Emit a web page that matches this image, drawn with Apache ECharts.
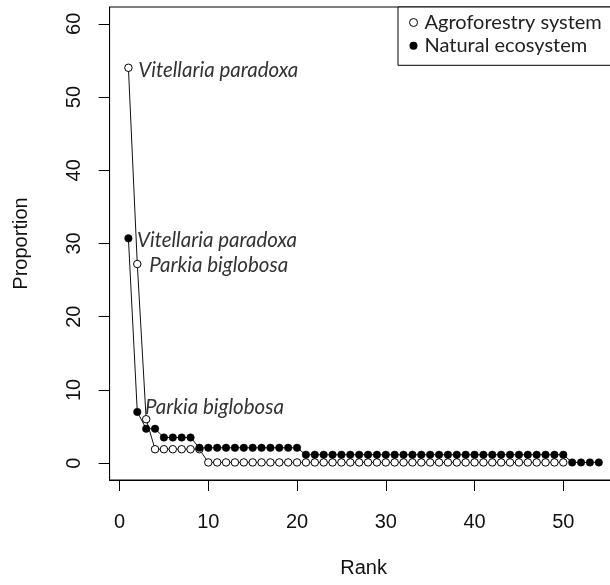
<!DOCTYPE html>
<html>
<head>
<meta charset="utf-8">
<script src="https://cdn.jsdelivr.net/npm/echarts@6/dist/echarts.min.js"></script>
<style>
html,body{margin:0;padding:0;background:#fff;}
#chart{width:610px;height:585px;}
</style>
</head>
<body>
<div id="chart"></div>
<script>
// ---- data ----
const seriesNames = ['Agroforestry system', 'Natural ecosystem'];
const agroforestry = [54.0, 27.2, 6.0, 1.9, 1.9, 1.9, 1.9, 1.9, 1.9,
  0.1, 0.1, 0.1, 0.1, 0.1, 0.1, 0.1, 0.1, 0.1, 0.1,
  0.1, 0.1, 0.1, 0.1, 0.1, 0.1, 0.1, 0.1, 0.1, 0.1,
  0.1, 0.1, 0.1, 0.1, 0.1, 0.1, 0.1, 0.1, 0.1, 0.1,
  0.1, 0.1, 0.1, 0.1, 0.1, 0.1, 0.1, 0.1, 0.1, 0.1, 0.1];
const natural = [30.7, 7.0, 4.7, 4.7, 3.5, 3.5, 3.5, 3.5,
  2.1, 2.1, 2.1, 2.1, 2.1, 2.1, 2.1, 2.1, 2.1, 2.1, 2.1, 2.1,
  1.15, 1.15, 1.15, 1.15, 1.15, 1.15, 1.15, 1.15, 1.15, 1.15,
  1.15, 1.15, 1.15, 1.15, 1.15, 1.15, 1.15, 1.15, 1.15, 1.15,
  1.15, 1.15, 1.15, 1.15, 1.15, 1.15, 1.15, 1.15, 1.15, 1.15,
  0.1, 0.1, 0.1, 0.1];
const xTicks = [0, 10, 20, 30, 40, 50];
const yTicks = [0, 10, 20, 30, 40, 50, 60];
// species annotations: [series index, rank, text]
const annotations = [
  [0, 1, 'Vitellaria paradoxa'],
  [1, 1, 'Vitellaria paradoxa'],
  [0, 2, 'Parkia biglobosa'],
  [1, 2, 'Parkia biglobosa']
];

// ---- styles ----
const labelOffsets = [[5.6, 2.2], [4.6, 2.3], [7.8, 1.0], [3.8, -4.9]];
const axisFont = "'Liberation Sans', Arial, sans-serif";
const textFont = "Lato, 'Noto Sans', sans-serif";

function buildData(values, sIdx) {
  return values.map(function (v, i) {
    const rank = i + 1;
    const item = { value: [rank, v] };
    annotations.forEach(function (a, k) {
      if (a[0] === sIdx && a[1] === rank) {
        item.label = {
          show: true,
          position: 'right',
          distance: labelOffsets[k][0],
          offset: [0, labelOffsets[k][1]],
          formatter: a[2],
          fontFamily: textFont,
          fontStyle: 'italic',
          fontSize: 20.5,
          color: '#333'
        };
      }
    });
    return item;
  });
}

const chart = echarts.init(document.getElementById('chart'), null, { renderer: 'canvas' });
chart.setOption({
  backgroundColor: '#fff',
  animation: false,
  grid: {
    left: 109.6, top: 7, width: 508, height: 473,
    show: true, borderColor: '#000', borderWidth: 1,
    backgroundColor: 'transparent',
    outerBoundsMode: 'none'
  },
  legend: {
    orient: 'vertical',
    left: 398, top: 7,
    padding: [5, 30, 9, 11],
    itemWidth: 12, itemHeight: 8, itemGap: 2.3,
    borderColor: '#000', borderWidth: 1,
    backgroundColor: '#fff',
    textStyle: { fontFamily: textFont, fontSize: 20, color: '#222', lineHeight: 21 },
    lineStyle: { width: 0, opacity: 0 },
    data: [
      { name: seriesNames[0], icon: 'circle', itemStyle: { color: '#fff', borderColor: '#000', borderWidth: 1 } },
      { name: seriesNames[1], icon: 'circle', itemStyle: { color: '#000', borderWidth: 0 } }
    ]
  },
  xAxis: {
    type: 'value', min: -1.12, max: 56.12,
    name: 'Rank', nameLocation: 'middle', nameGap: 78,
    nameTextStyle: { fontFamily: axisFont, fontSize: 20, color: '#111' },
    axisLine: { show: true, onZero: false, lineStyle: { color: '#000', width: 1 } },
    axisTick: { show: true, inside: false, length: 11, customValues: xTicks, lineStyle: { color: '#000', width: 1 } },
    axisLabel: { customValues: xTicks, margin: 32, fontFamily: axisFont, fontSize: 20, color: '#111' },
    splitLine: { show: false }
  },
  yAxis: {
    type: 'value', min: -2.3, max: 62.3,
    name: 'Proportion', nameLocation: 'middle', nameGap: 78, nameRotate: 90,
    nameTextStyle: { fontFamily: axisFont, fontSize: 20, color: '#111' },
    axisLine: { show: true, onZero: false, lineStyle: { color: '#000', width: 1 } },
    axisTick: { show: true, inside: false, length: 11, customValues: yTicks, lineStyle: { color: '#000', width: 1 } },
    axisLabel: { customValues: yTicks, rotate: 90, margin: 25, fontFamily: axisFont, fontSize: 20, color: '#111' },
    splitLine: { show: false }
  },
  series: [
    {
      name: seriesNames[0], type: 'line',
      data: buildData(agroforestry, 0),
      symbol: 'circle', symbolSize: 7.5, showSymbol: true,
      lineStyle: { color: '#111', width: 1 },
      itemStyle: { color: '#fff', borderColor: '#000', borderWidth: 1 },
      emphasis: { disabled: true },
      z: 2
    },
    {
      name: seriesNames[1], type: 'line',
      data: buildData(natural, 1),
      symbol: 'circle', symbolSize: 7.5, showSymbol: true,
      lineStyle: { color: '#111', width: 1 },
      itemStyle: { color: '#000', borderColor: '#000', borderWidth: 0.5 },
      emphasis: { disabled: true },
      z: 3
    }
  ]
});
</script>
</body>
</html>
